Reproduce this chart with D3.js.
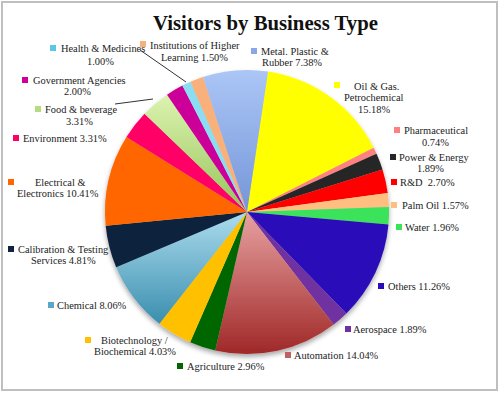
<!DOCTYPE html>
<html>
<head>
<meta charset="utf-8">
<script src="https://cdn.jsdelivr.net/npm/d3@7"></script>
<style>
  html, body { margin: 0; padding: 0; background: #fff; }
  svg { display: block; }
  text { white-space: pre; }
</style>
</head>
<body>
<svg id="chart" width="500" height="393"></svg>
<script>
// ---- data ----
const categories = [
  "Oil & Gas. Petrochemical", "Pharmaceutical", "Power & Energy", "R&D", "Palm Oil",
  "Water", "Others", "Aerospace", "Automation", "Agriculture",
  "Biotechnology / Biochemical", "Chemical", "Calibration & Testing Services",
  "Electrical & Electronics", "Environment", "Food & beverage",
  "Government Agencies", "Health & Medicines", "Institutions of Higher Learning",
  "Metal. Plastic & Rubber"
];
const values = [15.18, 0.74, 1.89, 2.70, 1.57, 1.96, 11.26, 1.89, 14.04, 2.96,
                4.03, 8.06, 4.81, 10.41, 3.31, 3.31, 2.00, 1.00, 1.50, 7.38];
const labelLines = [
  ["Oil & Gas.", "Petrochemical", "15.18%"],
  ["Pharmaceutical", "0.74%"],
  ["Power & Energy", "1.89%"],
  ["R&D  2.70%"],
  ["Palm Oil 1.57%"],
  ["Water 1.96%"],
  ["Others 11.26%"],
  ["Aerospace 1.89%"],
  ["Automation 14.04%"],
  ["Agriculture 2.96%"],
  ["Biotechnology /", "Biochemical 4.03%"],
  ["Chemical 8.06%"],
  ["Calibration & Testing", "Services 4.81%"],
  ["Electrical &", "Electronics 10.41%"],
  ["Environment 3.31%"],
  ["Food & beverage", "3.31%"],
  ["Government Agencies", "2.00%"],
  ["Health & Medicines", "1.00%"],
  ["Institutions of Higher", "Learning 1.50%"],
  ["Metal. Plastic &", "Rubber 7.38%"]
];
const title = "Visitors by Business Type";

// ---- styles ----
const colors = ["#FFFF00", "#FF8080", "#262626", "#FF0000", "#FFBF80",
                "#3BE35A", "#2A0DB8", "#7030A0", "grad:#E8A2A2:#A02828", "#006600",
                "#FFC000", "grad:#ACDCEE:#3A8EAE", "#10243E", "#FF6600", "#FF0066",
                "grad:#DCF3B0:#96C45A", "#CC0099", "#8ADDF2", "#FAB07A", "grad:#ABC6F6:#7595D8"];
const markerColors = ["#FFFF00", "#FF8080", "#262626", "#FF0000", "#FFBF80",
                "#3BE35A", "#2A0DB8", "#7030A0", "#C06060", "#006600",
                "#FFC000", "#5AA8C8", "#10243E", "#FF6600", "#FF0066",
                "#B6DC80", "#CC0099", "#5BC8E8", "#FAB07A", "#8AA8E8"];
// label layout: first entry = legend key centre, then per line [x of text start, y of line centre]
const labelLayout = [
  [[337, 85], [354, 86], [344, 97], [358, 109]],
  [[397, 130], [404, 130], [422, 142]],
  [[393, 157], [399, 157], [417, 168]],
  [[394, 182], [400, 182]],
  [[394, 205], [402, 205]],
  [[399, 227], [405, 227]],
  [[381, 286], [388, 286]],
  [[348, 329], [353, 329]],
  [[288, 355], [294, 355]],
  [[180, 366], [187, 366]],
  [[88, 340], [101, 340], [94, 351]],
  [[51, 305], [57, 305]],
  [[11, 249], [18, 249], [31, 260]],
  [[11, 182], [35, 182], [17, 193]],
  [[16, 138], [23, 138]],
  [[38, 109], [45, 109], [66, 121]],
  [[25, 80], [33, 80], [64, 91]],
  [[53, 48], [61, 48], [87, 61]],
  [[143, 44], [150, 45], [161, 57]],
  [[254, 51], [261, 51], [262, 62]]
];
const leaderLines = [
  { idx: 17, pts: [[140, 50], [186, 82]] },
  { idx: 15, pts: [[115, 104], [153, 99]] }
];

const cx = 247, cy = 212, R = 142;
const startOffset = 8.5 * Math.PI / 180;

const svg = d3.select("#chart");
const defs = svg.append("defs");

// border
svg.append("rect")
  .attr("x", 2).attr("y", 2).attr("width", 495).attr("height", 388)
  .attr("fill", "#fff").attr("stroke", "#BFBFBF").attr("stroke-width", 2);

// title
svg.append("text")
  .attr("x", 265.5).attr("y", 30)
  .attr("text-anchor", "middle")
  .attr("font-family", "'Liberation Serif', 'DejaVu Serif', serif")
  .attr("font-weight", "bold")
  .attr("font-size", 22)
  .attr("textLength", 225)
  .attr("lengthAdjust", "spacingAndGlyphs")
  .attr("fill", "#111")
  .text(title);

// shadow filter
const f = defs.append("filter").attr("id", "shadow")
  .attr("x", "-10%").attr("y", "-10%").attr("width", "120%").attr("height", "125%");
f.append("feGaussianBlur").attr("in", "SourceAlpha").attr("stdDeviation", 2.5).attr("result", "b");
f.append("feOffset").attr("in", "b").attr("dx", 0).attr("dy", 3).attr("result", "o");
f.append("feComponentTransfer").attr("in", "o").attr("result", "o2")
  .append("feFuncA").attr("type", "linear").attr("slope", 0.35);
const fm = f.append("feMerge");
fm.append("feMergeNode").attr("in", "o2");
fm.append("feMergeNode").attr("in", "SourceGraphic");

// gradients
colors.forEach((c, i) => {
  if (c.startsWith("grad:")) {
    const [, a, b] = c.split(":");
    const g = defs.append("linearGradient").attr("id", "g" + i)
      .attr("x1", 0).attr("y1", 0).attr("x2", 0).attr("y2", 1);
    g.append("stop").attr("offset", "0%").attr("stop-color", a);
    g.append("stop").attr("offset", "100%").attr("stop-color", b);
  }
});
const fillOf = i => colors[i].startsWith("grad:") ? `url(#g${i})` : colors[i];

const pie = d3.pie().sort(null).value(d => d)
  .startAngle(startOffset).endAngle(startOffset + 2 * Math.PI);
const arc = d3.arc().innerRadius(0).outerRadius(R);

const g = svg.append("g").attr("transform", `translate(${cx},${cy})`)
  .attr("filter", "url(#shadow)");
g.selectAll("path").data(pie(values)).join("path")
  .attr("d", arc)
  .attr("fill", (d, i) => fillOf(i));

// leader lines
leaderLines.forEach(l => {
  svg.append("path")
    .attr("d", d3.line()(l.pts))
    .attr("stroke", "#333").attr("stroke-width", 1).attr("fill", "none");
});

// labels
const lg = svg.append("g")
  .attr("font-family", "'Liberation Serif', 'DejaVu Serif', serif")
  .attr("font-size", 10.4)
  .attr("fill", "#222");
labelLines.forEach((lines, i) => {
  const [mx, my] = labelLayout[i][0];
  lg.append("rect").attr("x", mx - 3).attr("y", my - 3)
    .attr("width", 6).attr("height", 6)
    .attr("fill", markerColors[i]);
  lines.forEach((t, j) => {
    const [x, y] = labelLayout[i][j + 1];
    lg.append("text").attr("x", x).attr("y", y + 3.5).text(t);
  });
});
</script>
</body>
</html>
